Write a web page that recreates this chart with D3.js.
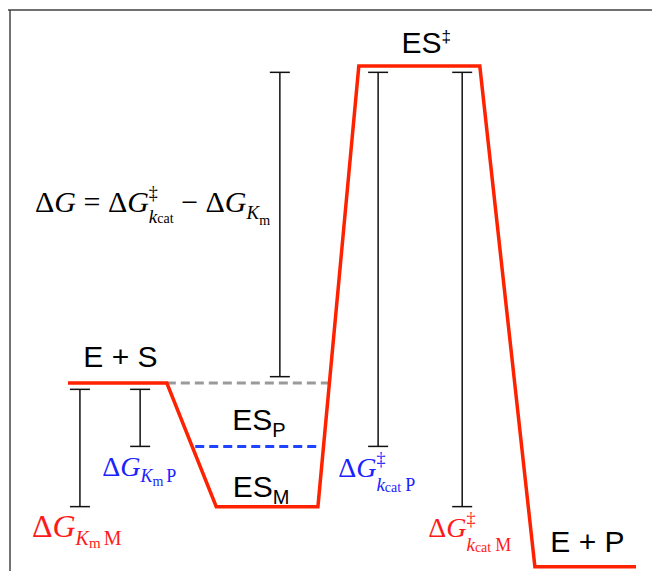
<!DOCTYPE html>
<html>
<head>
<meta charset="utf-8">
<script src="https://cdn.jsdelivr.net/npm/d3@7"></script>
<style>
  body { margin: 0; background: #fff; }
  .sans { font-family: "Liberation Sans", Arial, Helvetica, sans-serif; }
  .serif { font-family: "Liberation Serif", "Times New Roman", serif; }
</style>
</head>
<body>
<script>
// reaction coordinate (0-100) and free energy (E + S = 0, ES‡ = 10) of the red profile
let pathRc = [0, 17.4, 26.1, 44, 51.2, 72.5, 82.2, 100];
let pathG = [0, 0, -3.9, -3.9, 10, 10, -5.8, -5.8];

// dashed reference levels: E + S extended, and ES_P
let dashG = [0, -2];
let dashFrom = [17.4, 22.4];
let dashTo = [46.2, 44.5];

// error-bar style arrows between levels
let barRc = [2.1, 12.7, 37.3, 54.6, 69.4];
let barTop = [-0.2, -0.2, 9.8, 9.8, 9.8];
let barBottom = [-3.9, -2, 0.2, -2, -3.9];

let width = 652, height = 571;

let xScale = d3.scaleLinear().domain([0, 100]).range([68, 636]);
let yScale = d3.scaleLinear().domain([0, 10]).range([383, 66]);

let svg = d3.select("body").append("svg")
	.attr("width", width)
	.attr("height", height);

// frame (only top and left edges are visible)
svg.append("line")
	.attr("x1", 8).attr("x2", width).attr("y1", 10).attr("y2", 10)
	.attr("stroke", "#707070").attr("stroke-width", 2);
svg.append("line")
	.attr("x1", 10).attr("x2", 10).attr("y1", 10).attr("y2", height)
	.attr("stroke", "#444").attr("stroke-width", 1.5);

// dashed levels
let dashColors = ["#9a9a9a", "#1f44ff"];
dashG.forEach(function(g, i) {
	svg.append("line")
		.attr("x1", xScale(dashFrom[i])).attr("x2", xScale(dashTo[i]))
		.attr("y1", yScale(g)).attr("y2", yScale(g))
		.attr("stroke", dashColors[i])
		.attr("stroke-width", 3)
		.attr("stroke-dasharray", "9,5");
});

// energy profile
let profile = d3.line()
	.x(function(d) { return xScale(d[0]); })
	.y(function(d) { return yScale(d[1]); });

svg.append("path")
	.datum(d3.zip(pathRc, pathG))
	.attr("d", profile)
	.attr("fill", "none")
	.attr("stroke", "#ff2200")
	.attr("stroke-width", 3.5)
	.attr("stroke-linejoin", "miter");

// bars with end caps
let cap = 10;
barRc.forEach(function(rc, i) {
	let x = xScale(rc), y1 = yScale(barTop[i]), y2 = yScale(barBottom[i]);
	let g = svg.append("g").attr("stroke", "#111").attr("stroke-width", 1.5);
	g.append("line").attr("x1", x).attr("x2", x).attr("y1", y1).attr("y2", y2);
	g.append("line").attr("x1", x - cap).attr("x2", x + cap).attr("y1", y1).attr("y2", y1);
	g.append("line").attr("x1", x - cap).attr("x2", x + cap).attr("y1", y2).attr("y2", y2);
});

// text helper: pieces with baseline offsets
function richText(x, y, anchor, color, cls, pieces) {
	let t = svg.append("text")
		.attr("class", cls)
		.attr("x", x).attr("y", y)
		.attr("text-anchor", anchor)
		.attr("fill", color)
		.style("white-space", "pre");
	let prev = 0;
	pieces.forEach(function(p) {
		let off = p.off || 0;
		t.append("tspan")
			.attr("dy", off - prev)
			.attr("dx", p.dx || 0)
			.style("font-size", p.s + "px")
			.style("font-style", p.i ? "italic" : "normal")
			.text(p.t);
		prev = off;
	});
	return t;
}

// state labels
let mid = function(a, b) { return xScale((a + b) / 2); };
richText(mid(pathRc[0], pathRc[1]) + 3, yScale(0) - 16, "middle", "#000", "sans",
	[{t: "E + S", s: 30}]);
richText(mid(pathRc[4], pathRc[5]) + 7, yScale(10) - 13, "middle", "#000", "sans",
	[{t: "ES", s: 30}, {t: "‡", s: 17, off: -11}]);
richText(mid(dashFrom[1], dashTo[1]) + 1, yScale(-2) - 16, "middle", "#000", "sans",
	[{t: "ES", s: 30}, {t: "P", s: 20, off: 7}]);
richText(mid(pathRc[2], pathRc[3]) - 6, yScale(-3.9) - 10, "middle", "#000", "sans",
	[{t: "ES", s: 30}, {t: "M", s: 20, off: 7}]);
richText(mid(pathRc[6], pathRc[7]) + 2, yScale(-5.8) - 15, "middle", "#000", "sans",
	[{t: "E + P", s: 30}]);

// free energy labels
richText(35, 212, "start", "#000", "serif", [
	{t: "Δ", s: 30}, {t: "G", s: 30, i: true},
	{t: " = ", s: 30},
	{t: "Δ", s: 30}, {t: "G", s: 30, i: true},
	{t: "‡", s: 18, off: -13},
	{t: "k", s: 19, i: true, off: 11, dx: -9},
	{t: "cat", s: 14, off: 11},
	{t: " − ", s: 30},
	{t: "Δ", s: 30}, {t: "G", s: 30, i: true},
	{t: "K", s: 19, i: true, off: 7},
	{t: "m", s: 14, off: 13}
]);

richText(xScale(barRc[0]) - 48, yScale(barBottom[0]) + 30, "start", "#ff1a1a", "serif", [
	{t: "Δ", s: 32}, {t: "G", s: 32, i: true},
	{t: "K", s: 20, i: true, off: 8},
	{t: "m", s: 15, off: 11},
	{t: "M", s: 20, off: 8, dx: 3}
]);

richText(xScale(barRc[1]) - 38, yScale(barBottom[1]) + 30, "start", "#1a22ff", "serif", [
	{t: "Δ", s: 28}, {t: "G", s: 28, i: true},
	{t: "K", s: 18, i: true, off: 6},
	{t: "m", s: 14, off: 10},
	{t: "P", s: 18, off: 6, dx: 3}
]);

richText(xScale(barRc[3]) - 40, yScale(barBottom[3]) + 31, "start", "#1a22ff", "serif", [
	{t: "Δ", s: 28}, {t: "G", s: 28, i: true},
	{t: "‡", s: 18, off: -12},
	{t: "k", s: 19, i: true, off: 14, dx: -9},
	{t: "cat", s: 14, off: 15},
	{t: "P", s: 18, off: 14, dx: 4}
]);

richText(xScale(barRc[4]) - 34, yScale(barBottom[4]) + 30, "start", "#ff1a1a", "serif", [
	{t: "Δ", s: 28}, {t: "G", s: 28, i: true},
	{t: "‡", s: 18, off: -12},
	{t: "k", s: 19, i: true, off: 14, dx: -9},
	{t: "cat", s: 14, off: 15},
	{t: "M", s: 18, off: 14, dx: 4}
]);
</script>
</body>
</html>
